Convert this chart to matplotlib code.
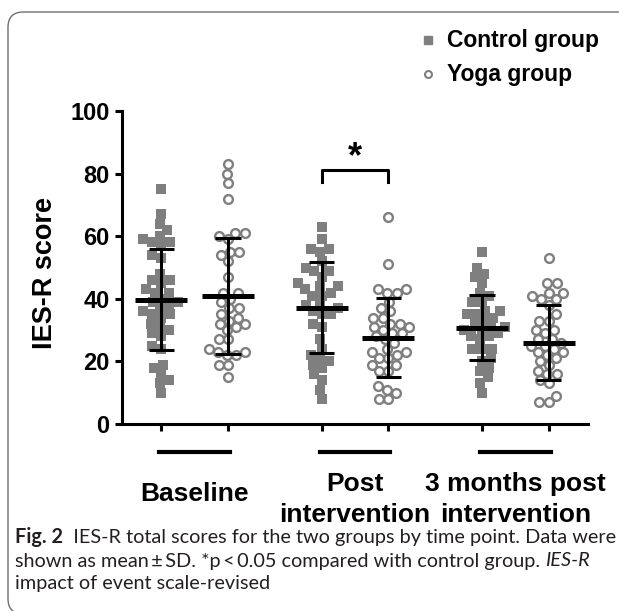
import matplotlib

matplotlib.use("Agg")
import matplotlib.pyplot as plt
import numpy as np
from matplotlib.patches import FancyBboxPatch
from matplotlib.transforms import blended_transform_factory

plt.rcParams["font.family"] = ["Liberation Sans", "DejaVu Sans"]

# IES-R total scores (one list per group and time point)
control_baseline = [75, 67, 64, 62, 60, 59, 58, 58, 57, 54, 53, 48, 46, 46, 45, 43,
                    42, 42, 40, 39, 39, 38, 37, 36, 35, 35, 34, 32, 31, 30, 29, 28,
                    25, 24, 19, 18, 16, 14, 13, 10]
yoga_baseline = [83, 80, 77, 72, 61, 61, 60, 59, 55, 55, 54, 52, 47, 42, 42, 40,
                 39, 37, 37, 35, 34, 33, 32, 32, 31, 30, 27, 27, 24, 23, 23, 22,
                 22, 19, 19, 15]
control_post = [63, 59, 56, 56, 55, 52, 50, 49, 49, 47, 45, 44, 44, 43, 42, 41,
                41, 38, 38, 37, 36, 35, 35, 32, 31, 27, 24, 22, 21, 20, 19, 18,
                16, 14, 11, 8]
yoga_post = [66, 51, 43, 43, 42, 42, 39, 36, 37, 34, 34, 32, 32, 31, 31, 30,
             29, 29, 28, 27, 26, 24, 23, 23, 22, 21, 21, 19, 19, 17, 17, 12,
             11, 10, 8, 8]
control_3m = [55, 50, 48, 47, 45, 42, 41, 39, 39, 36, 36, 35, 35, 34, 33, 32,
              31, 31, 30, 30, 29, 28, 28, 27, 24, 24, 24, 21, 20, 18, 17, 15,
              13, 10]
yoga_3m = [53, 45, 45, 42, 42, 41, 40, 40, 38, 35, 33, 33, 30, 30, 29, 27,
           27, 26, 25, 25, 24, 23, 23, 22, 21, 20, 19, 17, 16, 16, 14, 13,
           9, 7, 7]

# mean and SD bars as drawn in the figure (control, yoga per time point)
means = [39.7, 41.0, 37.2, 27.6, 30.8, 26.0]
sds = [16.1, 18.5, 14.4, 12.6, 10.4, 11.9]

timepoints = [["Baseline"], ["Post", "intervention"], ["3 months post", "intervention"]]
group_names = ["Control group", "Yoga group"]
yticks = [0, 20, 40, 60, 80, 100]

GRAY = "#7f7f7f"
W, H = 619, 611


def fx(px):
    return px / W


def fy(py):
    return 1 - py / H


def swarm(values, center, ax, diam):
    """Beeswarm x positions (data units) so markers of `diam` px do not collide."""
    t = ax.transData
    ux = t.transform((1, 0))[0] - t.transform((0, 0))[0]
    uy = t.transform((0, 1))[1] - t.transform((0, 0))[1]
    placed = []
    xs = []
    for v in values:
        y = v * uy
        cands = [0.0]
        for px, py in placed:
            dy = y - py
            if abs(dy) < diam:
                dx = np.sqrt(diam ** 2 - dy ** 2)
                cands += [px - dx, px + dx]
        cands.sort(key=abs)
        for c in cands:
            if all((c - px) ** 2 + (y - py) ** 2 >= diam ** 2 - 1e-6 for px, py in placed):
                break
        placed.append((c, y))
        xs.append(center + c / ux)
    return xs


fig = plt.figure(figsize=(W / 100, H / 100), dpi=100)

# rounded frame around the figure panel
fig.patches.append(FancyBboxPatch((fx(8), fy(614)), 1.2, fy(12) - fy(614),
                                  boxstyle="round,pad=0,rounding_size=0.025",
                                  transform=fig.transFigure, fill=False,
                                  ec="#6e6e6e", lw=1.0))

ax = fig.add_axes([fx(122), fy(424), fx(588) - fx(122), fy(111) - fy(424)])
ax.set_xlim(-0.59, 6.39)
ax.set_ylim(0, 100)

centers = [0.5, 2.9, 5.3]
positions = [centers[0] - 0.5, centers[0] + 0.5, centers[1] - 0.5, centers[1] + 0.5,
             centers[2] - 0.5, centers[2] + 0.5]
groups = [control_baseline, yoga_baseline, control_post, yoga_post, control_3m, yoga_3m]

for i, (pos, vals) in enumerate(zip(positions, groups)):
    vals = sorted(vals)
    xs = swarm(vals, pos, ax, 9.5)
    if i % 2 == 0:
        ax.scatter(xs, vals, marker="s", s=52, color=GRAY, lw=0, zorder=2, clip_on=False)
    else:
        ax.scatter(xs, vals, marker="o", s=40, facecolor="white", edgecolor=GRAY,
                   lw=1.7, zorder=2, clip_on=False)
    m, sd = means[i], sds[i]
    ax.hlines(m, pos - 0.39, pos + 0.39, color="black", lw=3.6, zorder=4)
    ax.vlines(pos, m - sd, m + sd, color="black", lw=2.2, zorder=4)
    ax.hlines([m - sd, m + sd], pos - 0.19, pos + 0.19, color="black", lw=2.2, zorder=4)

# significance bracket over post intervention
c = centers[1]
ax.plot([c - 0.5, c - 0.5, c + 0.5, c + 0.5], [77.2, 81.3, 81.3, 77.2],
        color="black", lw=2.2, clip_on=False)
ax.text(c, 85, "*", ha="center", va="center", fontsize=26, fontweight="bold")

for s in ["top", "right"]:
    ax.spines[s].set_visible(False)
for s in ["left", "bottom"]:
    ax.spines[s].set_linewidth(2.2)
ax.set_yticks(yticks)
ax.set_yticklabels([str(v) for v in yticks], fontsize=17, fontweight="bold")
ax.set_xticks(positions)
ax.set_xticklabels([])
ax.tick_params(axis="both", length=5, width=2.2, pad=4)

# group separators and time point labels under the axis
tb = blended_transform_factory(ax.transData, fig.transFigure)
for c, lab in zip(centers, timepoints):
    ax.plot([c - 0.53, c + 0.53], [fy(452)] * 2, color="black", lw=3, transform=tb,
            clip_on=False)
    if len(lab) == 1:
        ax.text(c, fy(494), lab[0], transform=tb, ha="center", va="center",
                fontsize=19, fontweight="bold")
    else:
        ax.text(c, fy(484), lab[0], transform=tb, ha="center", va="center",
                fontsize=19, fontweight="bold")
        ax.text(c, fy(515), lab[1], transform=tb, ha="center", va="center",
                fontsize=19, fontweight="bold")

fig.text(fx(45), fy(273), "IES-R score", rotation=90, ha="center", va="center",
         fontsize=19.5, fontweight="bold")

# legend
fig.add_artist(plt.Line2D([fx(428)], [fy(40)], marker="s", ms=6.3, color=GRAY, lw=0,
                          transform=fig.transFigure))
fig.add_artist(plt.Line2D([fx(428)], [fy(74)], marker="o", ms=5.0, mfc="white",
                          mec=GRAY, mew=1.5, lw=0, transform=fig.transFigure))
fig.text(fx(447), fy(40), group_names[0], va="center", fontsize=16.5, fontweight="bold")
fig.text(fx(447), fy(74), group_names[1], va="center", fontsize=16.5, fontweight="bold")

# caption with mixed styles
cap_font = ["Lato", "DejaVu Sans"]
cap_lines = [
    [("Fig. 2", "bold", "normal"), ("  IES-R total scores for the two groups by time point. Data were",
                                    "normal", "normal")],
    [("shown as mean\u2009\u00b1\u2009SD. *p\u2009<\u20090.05 compared with control group. ",
      "normal", "normal"),
     ("IES-R", "normal", "italic")],
    [("impact of event scale-revised", "normal", "normal")],
]
cap_y = [537, 561, 584]
renderer = fig.canvas.get_renderer()
for line, yy in zip(cap_lines, cap_y):
    x = 15
    for txt, wt, st in line:
        t = fig.text(fx(x), fy(yy), txt, va="center", ha="left", fontsize=14.3,
                     family=cap_font, fontweight=wt, fontstyle=st, color="#231f20")
        x += t.get_window_extent(renderer).width

fig.savefig("out.png", dpi=100)
